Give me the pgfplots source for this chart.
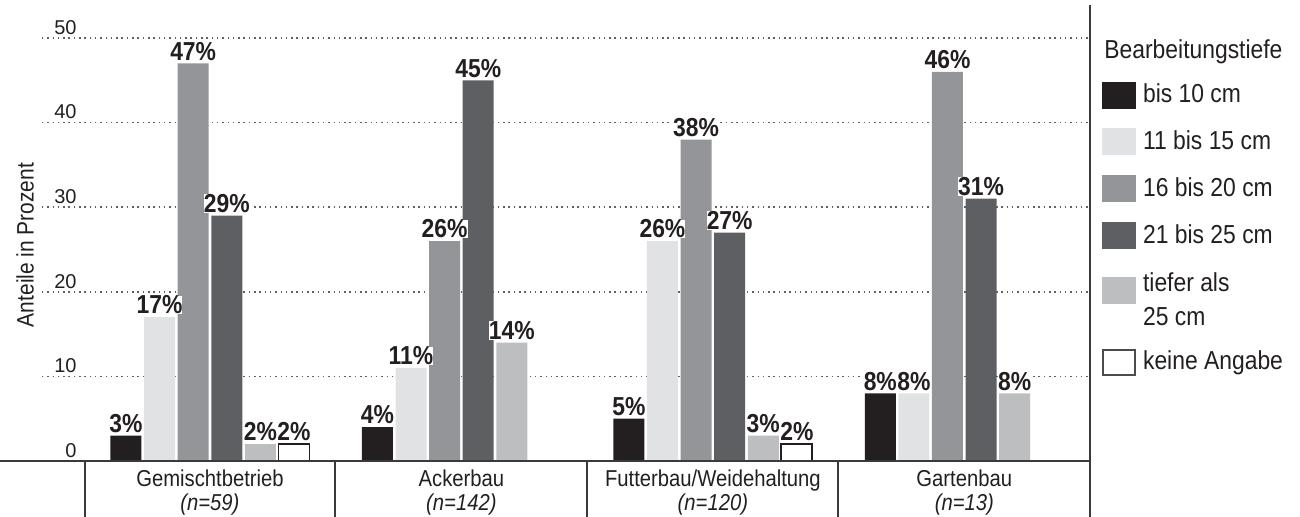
\documentclass[border=0pt]{standalone}
\usepackage{fontspec}
\setmainfont{Liberation Sans}[FakeStretch=0.88]
\newfontfamily\plainsans{Liberation Sans}
\usepackage{pgfplots}
\pgfplotsset{compat=1.18}

\definecolor{tiefA}{HTML}{231F20}
\definecolor{tiefB}{HTML}{E1E2E4}
\definecolor{tiefC}{HTML}{939598}
\definecolor{tiefD}{HTML}{5E5F63}
\definecolor{tiefE}{HTML}{BCBEC0}
\definecolor{rule}{HTML}{3A3A3C}
\definecolor{ink}{HTML}{231F20}

% legend swatches: plain filled box, a raised one for the two-line entry,
% and an outlined one for the empty category
\pgfplotsset{
  raised swatch/.style={legend image code/.code={\fill[##1] (0pt,-2.4pt) rectangle (17pt,11.1pt);}},
  outlined swatch/.style={legend image code/.code={\filldraw[fill=white, draw=black!70, line width=1pt] (0.5pt,-6.25pt) rectangle (16.5pt,6.25pt);}},
}

\begin{document}
\begin{tikzpicture}
\path[use as bounding box] (0pt,-28pt) rectangle (650pt,230.5pt);
\begin{axis}[
  at={(21pt,0pt)}, anchor=south west,
  scale only axis, width=524pt, height=228pt,
  xmin=-0.668, xmax=3.5, ymin=0, ymax=53.9,
  ybar=1.3pt, bar width=15.5pt,
  axis line style={draw=none},
  major tick length=0pt, tick style={draw=none},
  xtick={0,1,2,3},
  xticklabels={{Gemischtbetrieb\\\textit{(n=59)}},{Ackerbau\\\textit{(n=142)}},{Futterbau/Weidehaltung\\\textit{(n=120)}},{Gartenbau\\\textit{(n=13)}}},
  xticklabel style={align=center, font=\fontsize{11.5}{12}\selectfont, inner sep=0pt, anchor=north, yshift=-4.3pt, text=ink},
  ytick={0,10,20,30,40,50},
  ymajorgrids,
  major grid style={dash pattern=on 0.75pt off 1.9pt, line width=0.8pt, color=black!62},
  yticklabel style={anchor=south east, inner sep=0pt, xshift=17.5pt, yshift=1.5pt, font=\plainsans\fontsize{10}{12}\selectfont, text=ink},
  /pgf/number format/assume math mode=true,
  ylabel={Anteile in Prozent},
  every axis y label/.style={at={(axis description cs:-0.0162,0.4737)}, rotate=90, anchor=center, font=\fontsize{11.9}{13}\selectfont, text=ink},
  nodes near coords={\pgfmathprintnumber{\pgfplotspointmeta}\%},
  every node near coord/.append style={font=\bfseries\fontsize{13}{14}\selectfont, inner sep=0pt, anchor=south, yshift=1.3pt, fill=white, text=ink},
  legend cell align=left,
  legend style={draw=none, fill=none, at={(1.0115,0.8322)}, anchor=north west,
    inner sep=0pt, outer sep=0pt, row sep=9.9pt,
    font=\fontsize{13}{17}\selectfont, text=ink,
    nodes={inner xsep=3.5pt, inner ysep=0pt, align=left}},
  legend image code/.code={\fill[#1] (0pt,-6.75pt) rectangle (17pt,6.75pt);},
]
\addplot[fill=tiefA, draw=none] coordinates {(0,3) (1,4) (2,5) (3,8)};
\addlegendentry{bis 10 cm}
\addplot[fill=tiefB, draw=none] coordinates {(0,17) (1,11) (2,26) (3,8)};
\addlegendentry{11 bis 15 cm}
\addplot[fill=tiefC, draw=none] coordinates {(0,47) (1,26) (2,38) (3,46)};
\addlegendentry{16 bis 20 cm}
\addplot[fill=tiefD, draw=none] coordinates {(0,29) (1,45) (2,27) (3,31)};
\addlegendentry{21 bis 25 cm}
\addplot[fill=tiefE, draw=none, raised swatch]
  coordinates {(0,2) (1,14) (2,3) (3,8)};
\addlegendentry{\rule{0pt}{11.5pt}tiefer als\\25 cm\rule[-1.5pt]{0pt}{1.5pt}}
\addplot[fill=white, draw=tiefA, line width=0.9pt, outlined swatch] coordinates {(0,2) (2,2)};
\addlegendentry{keine Angabe}
\end{axis}
% frame lines: baseline, right divider and category separators
\draw[rule, line width=0.8pt] (0pt,0pt) -- (545pt,0pt);
\draw[rule, line width=0.8pt] (545pt,-28pt) -- (545pt,228pt);
\foreach \x in {42.5,167.5,293.5,419} \draw[rule, line width=0.6pt] (\x pt,0pt) -- (\x pt,-28pt);
\node[anchor=base west, inner sep=0pt, text=ink, font=\fontsize{13}{14}\selectfont] at (552pt,201pt) {Bearbeitungstiefe};
\end{tikzpicture}
\end{document}
